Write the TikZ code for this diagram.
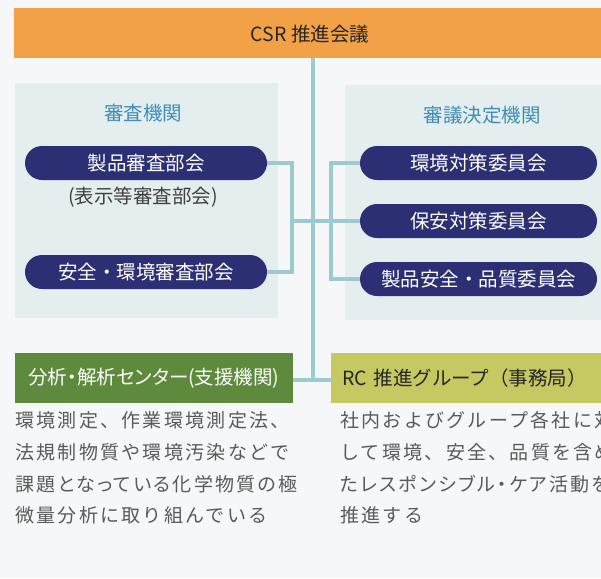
\documentclass[tikz,border=0pt]{standalone}
\usepackage{fontspec}
\setmainfont{Noto Sans CJK JP}
\newfontfamily\jpp[RawFeature={+palt}]{Noto Sans CJK JP}
\newfontfamily\jpsp[LetterSpace=12]{Noto Sans CJK JP}
\newfontfamily\jpspp[LetterSpace=12,RawFeature={+palt}]{Noto Sans CJK JP}
\definecolor{bgc}{HTML}{F6F7F8}
\definecolor{panelc}{HTML}{E4EEEE}
\definecolor{connc}{HTML}{9ACBD1}
\definecolor{pillc}{HTML}{2C2F73}
\definecolor{orangec}{HTML}{F2A147}
\definecolor{greenc}{HTML}{5E8A3E}
\definecolor{ygc}{HTML}{C6C862}
\definecolor{headc}{HTML}{3F8DB8}
\definecolor{parac}{HTML}{5A5A5A}
\tikzset{
  conn/.style={draw=connc, line width=4.5pt},
  pill/.style={fill=pillc, text=white, rounded corners=17pt, minimum height=34pt, inner sep=0pt, font=\fontsize{19.5}{22}\selectfont},
  head/.style={text=headc, inner sep=0pt, font=\fontsize{19.5}{22}\selectfont},
  para/.style={anchor=west, inner sep=0pt, text=parac, font=\jpsp\fontsize{19}{22}\selectfont},
  parap/.style={para, font=\jpspp\fontsize{19}{22}\selectfont},
}
\begin{document}
\begin{tikzpicture}[x=1pt,y=-1pt]
\useasboundingbox (0,0) rectangle (601,578);
\clip (0,0) rectangle (601,578);
\fill[bgc] (0,0) rectangle (601,578);
% panels
\fill[panelc] (15,83) rectangle (278,318);
\fill[panelc] (345,85) rectangle (620,320);
% top bar
\node[fill=orangec, minimum width=600pt, minimum height=50pt, inner sep=0pt, anchor=west] (csr) at (14,33) {};
\node[inner sep=0pt, font=\fontsize{19.5}{22}\selectfont, text=black!85] (csrt) at (310,34) {CSR 推進会議};
% junction coordinates
\coordinate (tj) at (313,380);
\coordinate (lj) at (292,221);
\coordinate (rj) at (331,221);
% headers
\node[head] (h1) at (143,113) {審査機関};
\node[head] (h2) at (482,115) {審議決定機関};
% left pills
\node[pill, minimum width=242pt] (p1) at (146,163) {製品審査部会};
\node[inner sep=0pt, text=black!75, font=\fontsize{19.5}{22}\selectfont] (s1) at (143,197) {(表示等審査部会)};
\node[pill, minimum width=242pt] (p2) at (146,272) {安全・環境審査部会};
% right pills
\node[pill, minimum width=237pt] (r1) at (478.5,163) {環境対策委員会};
\node[pill, minimum width=237pt] (r2) at (478.5,221) {保安対策委員会};
\node[pill, minimum width=237pt] (r3) at (478.5,279) {製品安全・品質委員会};
% bottom boxes
\node[fill=greenc, minimum width=278pt, minimum height=50pt, inner sep=0pt, text=white, font=\jpp\fontsize{19.5}{22}\selectfont] (g) at (154,378) {分析・解析センター(支援機関)};
\node[fill=ygc, minimum width=290pt, minimum height=50pt, inner xsep=11pt, inner ysep=0pt, text width=268pt, align=left, anchor=west, text=black!85, font=\fontsize{19.5}{22}\selectfont] (y) at (331,378) {RC 推進グループ（事務局）};
% connectors
\draw[conn] (csr.south -| tj) -- (tj);
\draw[conn] (p1.east) -| (lj) |- (p2.east);
\draw[conn] (r1.west) -| (rj) |- (r3.west);
\draw[conn] (lj) -- (r2.west);
\draw[conn] (g.east |- tj) -- (y.west |- tj);
% paragraphs
\node[para] (a1) at (15,420) {環境測定、作業環境測定法、};
\node[para] (a2) at (15,452) {法規制物質や環境汚染などで};
\node[parap] (a3) at (15,484) {課題となっている化学物質の極};
\node[para] (a4) at (15,515) {微量分析に取り組んでいる};
\node[para] (b1) at (340,420) {社内およびグループ各社に対};
\node[para] (b2) at (340,452) {して環境、安全、品質を含め};
\node[parap] (b3) at (340,484) {たレスポンシブル・ケア活動を};
\node[para] (b4) at (340,515) {推進する};
\end{tikzpicture}
\end{document}
